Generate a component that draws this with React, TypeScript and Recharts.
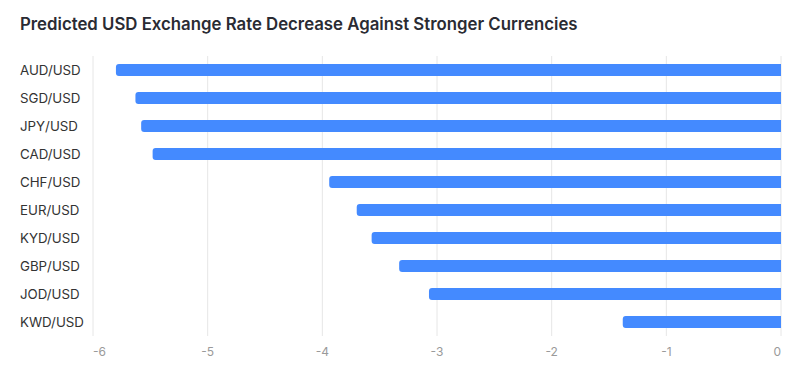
import React from "react";
import { BarChart, Bar, XAxis, YAxis, CartesianGrid } from "recharts";

const pairs = ["AUD/USD", "SGD/USD", "JPY/USD", "CAD/USD", "CHF/USD", "EUR/USD", "KYD/USD", "GBP/USD", "JOD/USD", "KWD/USD"];
const changes = [-5.8, -5.63, -5.58, -5.48, -3.94, -3.7, -3.57, -3.33, -3.07, -1.38];
const xTicks = [-6, -5, -4, -3, -2, -1, 0];

const data = pairs.map((name, i) => ({ name, value: changes[i] }));

const FONT = "Inter, 'Noto Sans', sans-serif";

const XTick = (props: any) => {
  const { x, y, payload, index } = props;
  const last = xTicks.length - 1;
  const anchor = index === 0 ? "start" : index === last ? "end" : "middle";
  return (
    <text x={x} y={y + 12} textAnchor={anchor} fill="#9a9a9a" fontSize={12} fontFamily={FONT}>
      {payload.value}
    </text>
  );
};

const YTick = (props: any) => {
  const { y, payload } = props;
  return (
    <text x={20} y={y} dy={5} textAnchor="start" fill="#333" fontSize={13.3} fontFamily={FONT}>
      {payload.value}
    </text>
  );
};

export default function App() {
  return (
    <div style={{ position: "absolute", left: 0, top: 0, width: 800, height: 376, background: "#fff" }}>
      <div
        style={{
          position: "absolute",
          left: 20,
          top: 13,
          fontFamily: FONT,
          fontSize: 16.8,
          fontWeight: 600,
          color: "#2a2b33",
          lineHeight: "22px",
          whiteSpace: "nowrap",
        }}
      >
        Predicted USD Exchange Rate Decrease Against Stronger Currencies
      </div>
      <BarChart
        width={800}
        height={376}
        data={data}
        layout="vertical"
        margin={{ top: 56, right: 19, bottom: 10, left: 0 }}
        style={{ position: "absolute", left: 0, top: 0 }}
      >
        <CartesianGrid horizontal={false} stroke="#e6e6e6" />
        <XAxis
          type="number"
          domain={[-6, 0]}
          ticks={xTicks}
          axisLine={false}
          tickLine={false}
          height={30}
          tick={<XTick />}
          interval={0}
        />
        <YAxis
          type="category"
          dataKey="name"
          width={93}
          axisLine={false}
          tickLine={false}
          tick={<YTick />}
          interval={0}
        />
        <Bar dataKey="value" fill="#448aff" barSize={12} radius={[0, 3, 3, 0]} isAnimationActive={false} />
      </BarChart>
    </div>
  );
}
